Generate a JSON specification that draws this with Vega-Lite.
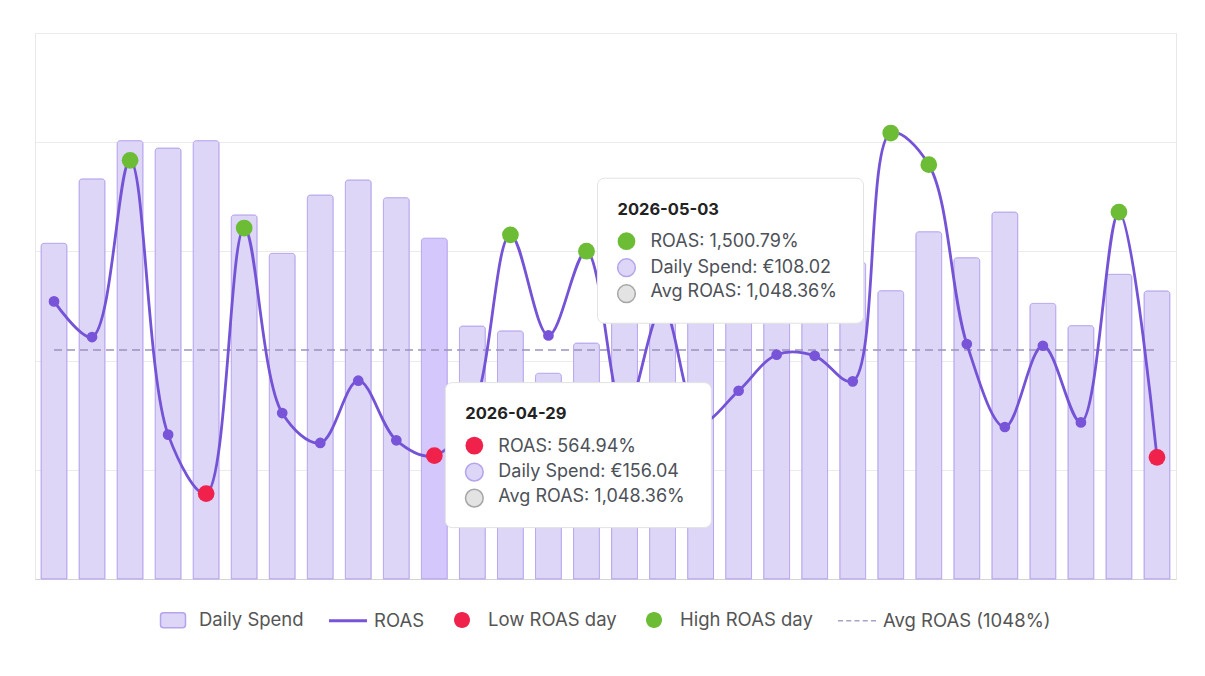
{
  "$schema": "https://vega.github.io/schema/vega-lite/v6.json",
  "width": 1141,
  "height": 546,
  "autosize": {"type": "none"},
  "padding": {"left": 35, "top": 33, "right": 29, "bottom": 97},
  "background": "white",
  "config": {
    "view": {"stroke": "#e8e8e8"},
    "font": "Inter",
    "legend": {
      "orient": "none",
      "direction": "horizontal",
      "labelFont": "Inter",
      "labelFontSize": 18.5,
      "labelColor": "#555555",
      "labelLimit": 300,
      "labelOffset": 10,
      "columnPadding": 21,
      "symbolSize": 900,
      "symbolStrokeWidth": 1.5
    }
  },
  "datasets": {
    "daily": [
      {"date": "2026-04-19", "spend": 153.7, "roas": 1271, "flag": "ROAS"},
      {"date": "2026-04-20", "spend": 183.2, "roas": 1108, "flag": "ROAS"},
      {"date": "2026-04-21", "spend": 200.7, "roas": 1917, "flag": "High ROAS day"},
      {"date": "2026-04-22", "spend": 197.3, "roas": 661, "flag": "ROAS"},
      {"date": "2026-04-23", "spend": 200.7, "roas": 391, "flag": "Low ROAS day"},
      {"date": "2026-04-24", "spend": 166.7, "roas": 1607, "flag": "High ROAS day"},
      {"date": "2026-04-25", "spend": 149.1, "roas": 760, "flag": "ROAS"},
      {"date": "2026-04-26", "spend": 175.8, "roas": 623, "flag": "ROAS"},
      {"date": "2026-04-27", "spend": 182.7, "roas": 908, "flag": "ROAS"},
      {"date": "2026-04-28", "spend": 174.6, "roas": 635, "flag": "ROAS"},
      {"date": "2026-04-29", "spend": 156.04, "roas": 564.94, "flag": "Low ROAS day"},
      {"date": "2026-04-30", "spend": 115.8, "roas": 766, "flag": "ROAS"},
      {"date": "2026-05-01", "spend": 113.6, "roas": 1576, "flag": "High ROAS day"},
      {"date": "2026-05-02", "spend": 94.2, "roas": 1115, "flag": "ROAS"},
      {"date": "2026-05-03", "spend": 108.02, "roas": 1500.79, "flag": "High ROAS day"},
      {"date": "2026-05-04", "spend": 165, "roas": 752, "flag": "ROAS"},
      {"date": "2026-05-05", "spend": 150, "roas": 1242, "flag": "ROAS"},
      {"date": "2026-05-06", "spend": 172, "roas": 720, "flag": "ROAS"},
      {"date": "2026-05-07", "spend": 158, "roas": 862, "flag": "ROAS"},
      {"date": "2026-05-08", "spend": 175, "roas": 1027, "flag": "ROAS"},
      {"date": "2026-05-09", "spend": 162, "roas": 1022, "flag": "ROAS"},
      {"date": "2026-05-10", "spend": 145, "roas": 905, "flag": "ROAS"},
      {"date": "2026-05-11", "spend": 132.0, "roas": 2042, "flag": "High ROAS day"},
      {"date": "2026-05-12", "spend": 159.0, "roas": 1897, "flag": "High ROAS day"},
      {"date": "2026-05-13", "spend": 147.1, "roas": 1076, "flag": "ROAS"},
      {"date": "2026-05-14", "spend": 168.0, "roas": 696, "flag": "ROAS"},
      {"date": "2026-05-15", "spend": 126.2, "roas": 1068, "flag": "ROAS"},
      {"date": "2026-05-16", "spend": 116.0, "roas": 717, "flag": "ROAS"},
      {"date": "2026-05-17", "spend": 139.5, "roas": 1680, "flag": "High ROAS day"},
      {"date": "2026-05-18", "spend": 131.9, "roas": 557, "flag": "Low ROAS day"}
    ],
    "tips": [
      {"date": "2026-04-29", "roas": 564.94, "spend": 156.04, "avg": 1048.36, "flag": "Low ROAS day"},
      {"date": "2026-05-03", "roas": 1500.79, "spend": 108.02, "avg": 1048.36, "flag": "High ROAS day"}
    ]
  },
  "encoding": {
    "x": {
      "field": "date",
      "type": "ordinal",
      "scale": {"paddingInner": 0.32, "paddingOuter": 0.16},
      "axis": {"title": null, "labels": false, "ticks": false, "grid": false, "domain": true, "domainColor": "#d4d4d4"}
    }
  },
  "layer": [
    {
      "data": {"name": "daily"},
      "mark": {"type": "bar", "stroke": "#b9a8ee", "strokeWidth": 1, "cornerRadiusTopLeft": 3, "cornerRadiusTopRight": 3},
      "encoding": {
        "y": {
          "field": "spend",
          "type": "quantitative",
          "scale": {"domain": [0, 250], "nice": false},
          "axis": {"title": null, "labels": false, "ticks": false, "domain": false, "grid": true, "gridColor": "#ebebeb", "values": [0, 50, 100, 150, 200, 250]}
        },
        "fill": {
          "condition": {"test": "datum.date === '2026-04-29'", "value": "#d4c7fb"},
          "value": "#ddd6f6"
        }
      }
    },
    {
      "layer": [
        {
          "data": {"name": "daily"},
          "mark": {"type": "line", "strokeDash": [8, 5], "color": "#9c92bd", "strokeWidth": 1.5},
          "encoding": {
            "y": {"datum": 1048.36, "type": "quantitative", "scale": {"domain": [0, 2500], "nice": false}, "axis": null}
          }
        },
        {
          "data": {"name": "daily"},
          "mark": {"type": "line", "interpolate": "catmull-rom", "color": "#7453d6", "strokeWidth": 2.8},
          "encoding": {
            "y": {"field": "roas", "type": "quantitative", "scale": {"domain": [0, 2500], "nice": false}, "axis": null}
          }
        },
        {
          "data": {"name": "daily"},
          "mark": {"type": "point", "filled": true, "opacity": 1, "strokeWidth": 0},
          "encoding": {
            "y": {"field": "roas", "type": "quantitative", "axis": null},
            "fill": {
              "field": "flag",
              "type": "nominal",
              "scale": {
                "domain": ["Daily Spend", "ROAS", "Low ROAS day", "High ROAS day", "Avg ROAS (1048%)"],
                "range": ["#ddd6f6", "#7754d8", "#f0214b", "#6cbc36", "#aaa1c6"]
              },
              "legend": {"title": null, "legendX": 122, "legendY": 571}
            },
            "size": {
              "condition": {"test": "datum.flag !== 'ROAS'", "value": 280},
              "value": 115
            }
          }
        },
        {
          "data": {"name": "daily"},
          "transform": [{"filter": "datum.flag === 'none'"}],
          "mark": {"type": "point", "filled": true, "opacity": 1, "strokeWidth": 1.5},
          "encoding": {
            "y": {"field": "roas", "type": "quantitative", "axis": null},
            "fill": {"field": "flag", "type": "nominal", "legend": {"title": null, "legendX": 122, "legendY": 571}},
            "stroke": {
              "field": "flag",
              "type": "nominal",
              "scale": {
                "domain": ["Daily Spend", "ROAS", "Low ROAS day", "High ROAS day", "Avg ROAS (1048%)"],
                "range": ["#b5a3ec", "transparent", "transparent", "transparent", "transparent"]
              },
              "legend": {"title": null, "legendX": 122, "legendY": 571}
            },
            "shape": {
              "field": "flag",
              "type": "nominal",
              "scale": {
                "domain": ["Daily Spend", "ROAS", "Low ROAS day", "High ROAS day", "Avg ROAS (1048%)"],
                "range": [
                  "M-0.633,-0.5H0.633A0.2,0.2 0 0 1 0.833,-0.3V0.3A0.2,0.2 0 0 1 0.633,0.5H-0.633A0.2,0.2 0 0 1 -0.833,0.3V-0.3A0.2,0.2 0 0 1 -0.633,-0.5Z",
                  "M-1.267,-0.1H1.267V0.1H-1.267Z",
                  "M-0.533,0A0.533,0.533 0 1,0 0.533,0A0.533,0.533 0 1,0 -0.533,0Z",
                  "M-0.533,0A0.533,0.533 0 1,0 0.533,0A0.533,0.533 0 1,0 -0.533,0Z",
                  "M-1.267,-0.055H-0.934V0.055H-1.267Z M-0.717,-0.055H-0.384V0.055H-0.717Z M-0.167,-0.055H0.166V0.055H-0.167Z M0.383,-0.055H0.716V0.055H0.383Z M0.933,-0.055H1.266V0.055H0.933Z"
                ]
              },
              "legend": {"title": null, "legendX": 122, "legendY": 571}
            }
          }
        },
        {
          "data": {"name": "tips"},
          "mark": {"type": "rect", "width": 266, "xOffset": 144, "yOffset": -73, "y2Offset": 72, "fill": "white", "stroke": "#e2e2e2", "strokeWidth": 1, "cornerRadius": 7},
          "encoding": {
            "y": {"field": "roas", "type": "quantitative", "axis": null},
            "y2": {"field": "roas"}
          }
        },
        {
          "data": {"name": "tips"},
          "mark": {"type": "text", "align": "left", "baseline": "alphabetic", "xOffset": 31, "yOffset": -36.5, "font": "Inter", "fontSize": 16.5, "fontWeight": 700, "color": "#222222"},
          "encoding": {
            "y": {"field": "roas", "type": "quantitative", "axis": null},
            "text": {"field": "date"}
          }
        },
        {
          "data": {"name": "tips"},
          "mark": {"type": "point", "filled": true, "opacity": 1, "size": 314, "xOffset": 40, "yOffset": -10},
          "encoding": {
            "y": {"field": "roas", "type": "quantitative", "axis": null},
            "fill": {"condition": {"test": "datum.flag === 'High ROAS day'", "value": "#6cbc36"}, "value": "#f0214b"}
          }
        },
        {
          "data": {"name": "tips"},
          "mark": {"type": "point", "filled": true, "opacity": 1, "size": 314, "xOffset": 40, "yOffset": 16.5, "fill": "#ddd6f6", "stroke": "#b5a3ec", "strokeWidth": 1.5},
          "encoding": {
            "y": {"field": "roas", "type": "quantitative", "axis": null}
          }
        },
        {
          "data": {"name": "tips"},
          "mark": {"type": "point", "filled": true, "opacity": 1, "size": 314, "xOffset": 40, "yOffset": 42.5, "fill": "#e3e3e3", "stroke": "#a6a6a6", "strokeWidth": 1.5},
          "encoding": {
            "y": {"field": "roas", "type": "quantitative", "axis": null}
          }
        },
        {
          "data": {"name": "tips"},
          "transform": [{"calculate": "'ROAS: ' + format(datum.roas, ',.2f') + '%'", "as": "label"}],
          "mark": {"type": "text", "align": "left", "baseline": "alphabetic", "xOffset": 64, "yOffset": -4, "font": "Inter", "fontSize": 18, "color": "#4d5158"},
          "encoding": {
            "y": {"field": "roas", "type": "quantitative", "axis": null},
            "text": {"field": "label"}
          }
        },
        {
          "data": {"name": "tips"},
          "transform": [{"calculate": "'Daily Spend: €' + format(datum.spend, ',.2f')", "as": "label"}],
          "mark": {"type": "text", "align": "left", "baseline": "alphabetic", "xOffset": 64, "yOffset": 21.5, "font": "Inter", "fontSize": 18, "color": "#4d5158"},
          "encoding": {
            "y": {"field": "roas", "type": "quantitative", "axis": null},
            "text": {"field": "label"}
          }
        },
        {
          "data": {"name": "tips"},
          "transform": [{"calculate": "'Avg ROAS: ' + format(datum.avg, ',.2f') + '%'", "as": "label"}],
          "mark": {"type": "text", "align": "left", "baseline": "alphabetic", "xOffset": 64, "yOffset": 46, "font": "Inter", "fontSize": 18, "color": "#4d5158"},
          "encoding": {
            "y": {"field": "roas", "type": "quantitative", "axis": null},
            "text": {"field": "label"}
          }
        }
      ]
    }
  ],
  "resolve": {"scale": {"y": "independent"}}
}
